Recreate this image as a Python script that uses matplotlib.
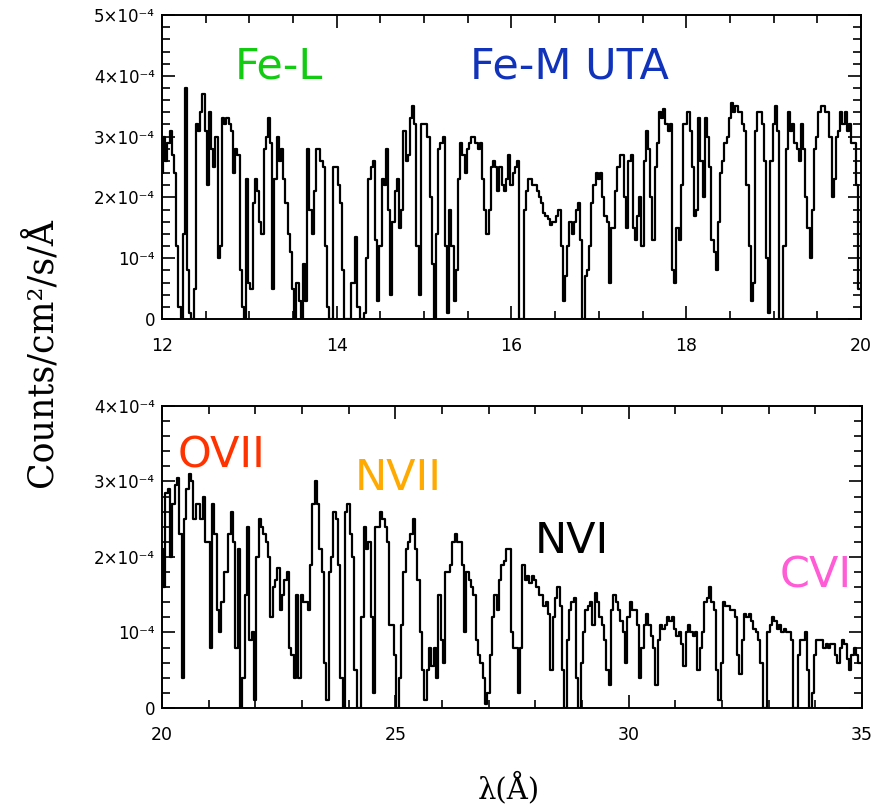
import numpy as np
import matplotlib
matplotlib.use('Agg')
import matplotlib.pyplot as plt
from matplotlib.ticker import MultipleLocator

# flux in units of 1e-4 counts/cm2/s/A, one value per bin
flux_fe = [
    2.4, 3.0, 2.6, 2.9, 3.1, 2.7, 2.4, 1.2, 0.2, 0.0,
    1.4, 3.8, 0.8, 0.1, 0.0, 0.5, 3.2, 3.1, 3.4, 3.7,
    3.1, 2.2, 3.4, 2.8, 2.5, 3.0, 1.0, 1.2, 3.3, 3.2,
    3.3, 3.2, 3.1, 2.4, 2.8, 2.7, 0.8, 0.2, 0.0, 2.3,
    0.6, 0.5, 1.9, 2.3, 2.1, 1.6, 1.4, 2.8, 3.0, 3.3,
    2.9, 0.5, 2.3, 3.0, 2.6, 2.8, 2.3, 1.9, 1.4, 1.1,
    0.5, 0.0, 0.6, 0.3, 0.0, 0.9, 0.3, 2.8, 1.8, 1.4,
    2.1, 2.8, 2.8, 2.6, 2.5, 1.2, 0.2, 0.0, 0.0, 2.5,
    2.5, 2.2, 1.9, 0.8, 0.0, 0.0, 0.0, 0.6, 0.6, 1.35,
    0.2, 0.0, 0.0, 0.1, 1.0, 2.3, 2.5, 2.6, 1.3, 0.3,
    1.2, 2.3, 2.2, 2.8, 1.8, 0.4, 1.6, 2.1, 2.3, 1.5,
    1.8, 3.1, 2.6, 2.7, 3.3, 3.5, 3.2, 1.2, 0.4, 3.2,
    3.2, 3.2, 3.0, 2.0, 0.9, 0.0, 1.4, 2.8, 2.9, 3.0,
    1.2, 0.1, 1.8, 1.2, 0.3, 0.8, 2.3, 2.9, 2.7, 2.4,
    2.8, 2.9, 3.0, 3.0, 2.9, 2.8, 2.9, 2.3, 1.8, 1.4,
    1.8, 2.5, 2.6, 2.5, 2.1, 2.5, 2.2, 2.1, 2.3, 2.7,
    2.2, 2.4, 2.5, 2.6, 0.0, 0.0, 1.8, 2.1, 2.3, 2.3,
    2.2, 2.2, 2.1, 2.0, 1.9, 1.75, 1.7, 1.65, 1.55, 1.6,
    1.6, 1.7, 1.8, 1.2, 0.3, 0.7, 1.2, 1.6, 1.4, 1.6,
    1.8, 1.9, 1.3, 0.0, 0.7, 0.8, 1.2, 1.9, 2.2, 2.4,
    2.3, 2.4, 2.0, 1.7, 1.6, 0.6, 1.5, 1.5, 2.1, 2.5,
    2.7, 2.7, 2.0, 1.5, 2.6, 2.7, 1.5, 1.3, 1.7, 2.0,
    1.2, 2.6, 3.1, 2.8, 2.0, 1.3, 2.5, 2.9, 3.4, 3.3,
    3.45, 3.2, 3.1, 3.2, 0.8, 0.6, 1.5, 1.3, 2.2, 3.2,
    3.2, 3.4, 3.1, 2.5, 1.7, 1.8, 3.3, 2.6, 2.0, 3.3,
    3.0, 2.5, 1.3, 1.1, 0.8, 1.6, 2.4, 2.6, 2.9, 3.0,
    3.3, 3.55, 3.4, 3.5, 3.4, 3.4, 3.2, 3.1, 2.2, 1.2,
    0.3, 0.6, 3.1, 3.4, 3.4, 3.2, 2.6, 1.0, 0.1, 2.6,
    3.2, 3.5, 3.1, 0.0, 0.0, 1.2, 2.8, 3.4, 3.1, 3.2,
    2.9, 2.8, 2.6, 3.2, 2.8, 2.0, 1.5, 1.0, 1.8, 2.8,
    3.0, 3.4, 3.5, 3.5, 3.4, 3.4, 3.0, 2.0, 2.3, 3.0,
    3.1, 3.4, 3.2, 3.4, 3.1, 3.2, 2.9, 2.9, 2.2, 0.5,
]

flux_cno = [
    2.1, 1.6, 2.85, 2.9, 2.0, 2.7, 2.95, 3.05, 2.3, 0.4,
    2.5, 2.9, 3.1, 3.0, 2.5, 2.7, 2.7, 2.5, 2.8, 2.2,
    2.2, 0.8, 2.7, 2.3, 1.3, 1.0, 1.4, 1.8, 1.8, 2.3,
    2.6, 2.2, 0.8, 2.1, 0.0, 0.4, 1.5, 2.4, 0.9, 1.0,
    0.1, 2.0, 2.5, 2.4, 2.3, 2.2, 2.0, 1.2, 1.6, 1.7,
    1.85, 1.3, 1.5, 1.7, 1.8, 0.8, 0.7, 0.4, 1.5, 0.4,
    1.5, 1.4, 1.4, 1.3, 1.9, 2.7, 3.0, 2.7, 2.1, 1.8,
    0.6, 0.1, 1.8, 2.0, 2.6, 2.5, 1.9, 0.4, 0.0, 2.6,
    2.7, 2.3, 2.0, 0.5, 0.0, 0.0, 1.2, 2.4, 2.1, 2.2,
    1.2, 0.2, 2.4, 2.4, 2.6, 2.5, 2.4, 2.2, 1.1, 1.1,
    0.7, 0.0, 0.4, 1.1, 1.8, 2.1, 2.2, 2.3, 2.5, 2.1,
    1.7, 1.0, 0.5, 0.1, 0.5, 0.8, 0.55, 0.8, 0.4, 1.5,
    0.9, 0.6, 1.8, 1.8, 1.9, 2.2, 2.3, 2.2, 2.2, 1.9,
    1.0, 1.8, 1.7, 1.6, 1.5, 0.9, 0.7, 0.6, 0.4, 0.05,
    0.2, 0.7, 1.2, 1.5, 1.3, 1.7, 1.9, 1.95, 2.1, 2.1,
    1.0, 0.8, 0.8, 0.2, 0.8, 1.9, 1.7, 1.75, 1.65, 1.75,
    1.7, 1.6, 1.5, 1.5, 1.35, 1.4, 1.25, 0.5, 1.2, 1.45,
    1.6, 1.35, 0.5, 0.0, 0.9, 1.3, 1.4, 1.45, 0.4, 0.0,
    0.6, 1.0, 1.3, 1.35, 1.4, 1.1, 1.52, 1.4, 1.2, 1.1,
    0.9, 0.5, 0.3, 1.3, 1.5, 1.4, 1.3, 1.15, 1.0, 0.6,
    1.2, 1.4, 1.3, 1.3, 1.1, 0.4, 0.8, 1.1, 1.25, 1.1,
    0.95, 0.8, 0.3, 0.9, 1.1, 1.05, 1.1, 1.2, 1.15, 1.2,
    1.05, 0.95, 1.0, 0.85, 0.55, 1.0, 1.1, 1.0, 0.95, 1.0,
    0.5, 0.8, 1.0, 1.4, 1.45, 1.6, 1.4, 1.3, 0.5, 0.1,
    0.6, 1.4, 1.35, 1.35, 1.3, 1.3, 1.2, 0.7, 0.45, 0.9,
    1.25, 1.2, 1.25, 1.15, 1.05, 1.0, 0.9, 0.6, 0.0, 0.0,
    1.0, 1.1, 1.2, 1.15, 1.05, 1.1, 1.0, 1.05, 1.0, 1.0,
    0.9, 0.0, 0.0, 0.7, 0.9, 0.9, 1.0, 0.5, 0.0, 0.2,
    0.7, 0.9, 0.9, 0.9, 0.8, 0.85, 0.8, 0.85, 0.85, 0.7,
    0.6, 0.8, 0.9, 0.85, 0.65, 0.5, 0.7, 0.8, 0.7, 0.6,
]

# wavelength bins
wave_fe = 12.0 + 0.025 * np.arange(len(flux_fe))
wave_cno = 20.0 + 0.05 * np.arange(len(flux_cno))

# line labels: text, wavelength, flux (1e-4), colour
labels_fe = [('Fe-L', 12.835, 3.96, '#11cc11'),
             ('Fe-M UTA', 15.52, 3.96, '#1133bb')]
labels_cno = [('OVII', 20.34, 3.18, '#ff3300'),
              ('NVII', 24.14, 2.89, '#ffaa00'),
              ('NVI', 27.99, 2.05, '#000000'),
              ('CVI', 33.24, 1.59, '#ff5cd6')]

yticks_fe = [0, 1e-4, 2e-4, 3e-4, 4e-4, 5e-4]
ylabels_fe = ['0', '10⁻⁴', '2×10⁻⁴', '3×10⁻⁴', '4×10⁻⁴', '5×10⁻⁴']
yticks_cno = [0, 1e-4, 2e-4, 3e-4, 4e-4]
ylabels_cno = ['0', '10⁻⁴', '2×10⁻⁴', '3×10⁻⁴', '4×10⁻⁴']

fig = plt.figure(figsize=(8.88, 8.08), dpi=100)
ax1 = fig.add_axes([0.1824, 0.6052, 0.7872, 0.3762])
ax2 = fig.add_axes([0.1824, 0.1238, 0.7883, 0.3738])


def style_axis(ax, xlim, ylim, xmajor, xminor, yticks, ylabels):
    ax.set_xlim(*xlim)
    ax.set_ylim(*ylim)
    ax.xaxis.set_major_locator(MultipleLocator(xmajor))
    ax.xaxis.set_minor_locator(MultipleLocator(xminor))
    ax.set_yticks(yticks)
    ax.set_yticklabels(ylabels)
    ax.yaxis.set_minor_locator(MultipleLocator(2e-5))
    ax.tick_params(which='both', direction='in', top=True, right=True,
                   width=1.2, colors='black')
    ax.tick_params(which='major', length=9.5)
    ax.tick_params(which='minor', length=5.5)
    ax.tick_params(axis='x', pad=13, labelsize=12.5)
    ax.tick_params(axis='y', pad=5, labelsize=12)
    for sp in ax.spines.values():
        sp.set_linewidth(1.4)


ax1.plot(wave_fe, np.array(flux_fe) * 1e-4, drawstyle='steps-mid',
         color='black', lw=1.6)
style_axis(ax1, (12, 20), (0, 5e-4), 2, 0.5, yticks_fe, ylabels_fe)
for txt, x, y, c in labels_fe:
    ax1.text(x, y * 1e-4, txt, color=c, fontsize=31, va='baseline',
             family='DejaVu Sans')

ax2.plot(wave_cno, np.array(flux_cno) * 1e-4, drawstyle='steps-mid',
         color='black', lw=1.6)
style_axis(ax2, (20, 35), (0, 4e-4), 5, 1, yticks_cno, ylabels_cno)
for txt, x, y, c in labels_cno:
    ax2.text(x, y * 1e-4, txt, color=c, fontsize=31, va='baseline',
             family='DejaVu Sans')

fig.text(0.045, 0.564, 'Counts/cm²/s/Å', rotation=90, ha='center',
         va='center', fontsize=25, family='DejaVu Serif')
fig.text(0.573, 0.005, 'λ(Å)', ha='center', va='bottom', fontsize=21,
         family='DejaVu Serif')

fig.savefig('out.png', dpi=100)
